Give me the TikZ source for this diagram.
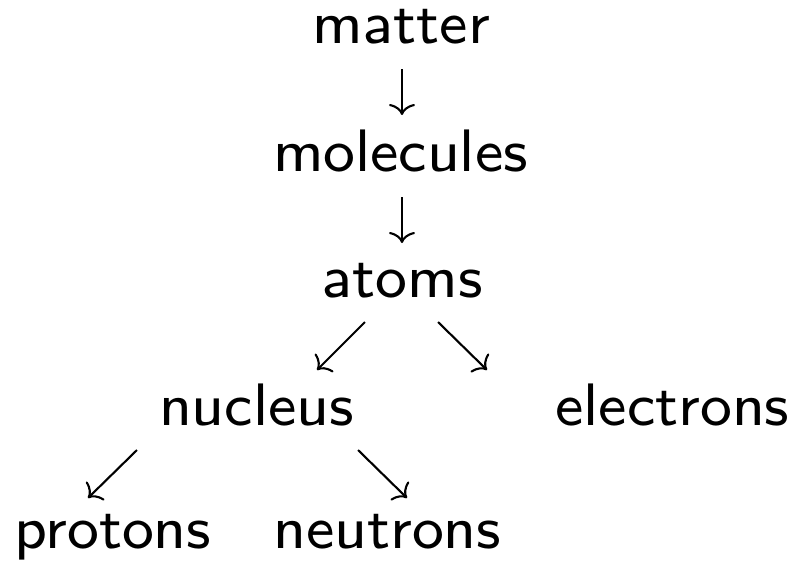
\documentclass[tikz,border=0pt]{standalone}
\usetikzlibrary{arrows.meta,calc}
\usepackage{graphicx}
\newcommand\labfont{\fontencoding{OT1}\fontfamily{cmss}\fontsize{8}{10}\selectfont}
\newlength\molw
\begin{document}
\settowidth\molw{\labfont molecules}%
\pgfmathsetmacro\labscale{255pt/\molw}%
\newcommand\tx[1]{\scalebox{\labscale}{\labfont #1}}%
\begin{tikzpicture}[x=1pt,y=-1pt,
  lbl/.style={inner sep=0pt,anchor=base},
  arr/.style={line width=2.1pt,-{Computer Modern Rightarrow[length=11pt,width=26pt]}}]
\useasboundingbox (0,0) rectangle (797,560);
\node[lbl] (matter) at (401.5,43) {\tx{matter}};
\node[lbl] (molecules) at (400.5,171) {\tx{molecules}};
\node[lbl] (atoms) at (402.5,297) {\tx{atoms}};
\node[lbl] (nucleus) at (256.5,425) {\tx{nucleus}};
\node[lbl] (electrons) at (672.5,425) {\tx{electrons}};
\node[lbl] (protons) at (113,548) {\tx{protons}};
\node[lbl] (neutrons) at (387.5,548) {\tx{neutrons}};
\draw[arr] ($(matter.base)+(0.5,26)$) -- ($(molecules.base)+(1.5,-56)$);
\draw[arr] ($(molecules.base)+(1.5,26)$) -- ($(atoms.base)+(-0.5,-54)$);
\draw[arr] ($(atoms.base)+(-37.5,25)$) -- ($(nucleus.base)+(60.5,-55)$);
\draw[arr] ($(atoms.base)+(35.5,25)$) -- ($(electrons.base)+(-185.5,-55)$);
\draw[arr] ($(nucleus.base)+(-119.5,25)$) -- ($(protons.base)+(-25,-50)$);
\draw[arr] ($(nucleus.base)+(101.5,25)$) -- ($(neutrons.base)+(19.5,-50)$);
\end{tikzpicture}
\end{document}
